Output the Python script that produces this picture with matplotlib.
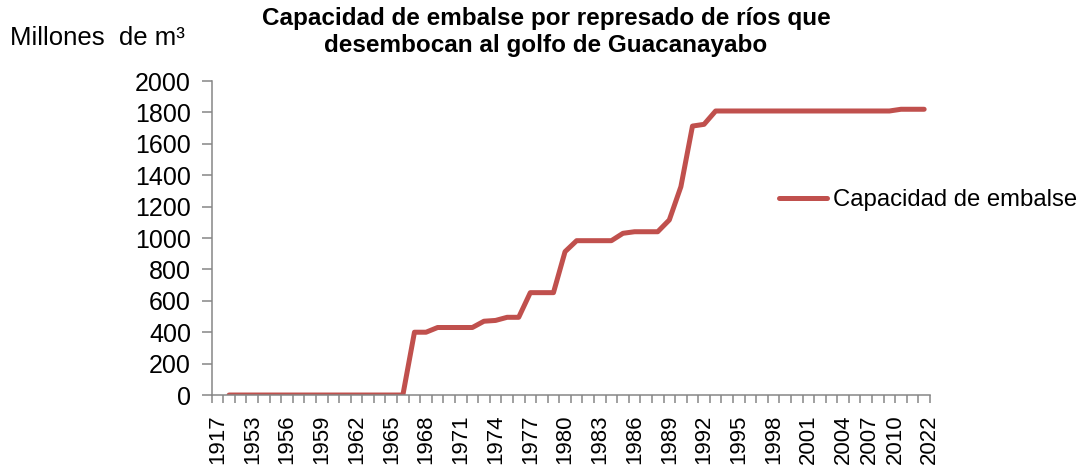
import numpy as np
import matplotlib
matplotlib.use("Agg")
import matplotlib.pyplot as plt
import matplotlib.transforms as mtransforms

plt.rcParams['font.family'] = ['Liberation Sans', 'DejaVu Sans']

# categories (years) and reservoir capacity (millions of m3)
years = ['1917', '1951', '1952',
         '1953', '1954', '1955', '1956', '1957', '1958', '1959', '1960',
         '1961', '1962', '1963', '1964', '1965', '1966', '1967', '1968',
         '1969', '1970', '1971', '1972', '1973', '1974', '1975', '1976',
         '1977', '1978', '1979', '1980', '1981', '1982', '1983', '1984',
         '1985', '1986', '1987', '1988', '1989', '1990', '1991', '1992',
         '1993', '1994', '1995', '1996', '1997', '1998', '1999', '2000',
         '2001', '2002', '2003', '2004', '2005', '2006', '2007', '2008',
         '2009', '2010', '2022']
capacidad = [np.nan, 0, 0,
             0, 0, 0, 0, 0, 0, 0, 0,
             0, 0, 0, 0, 0, 0, 400, 400,
             430, 430, 430, 430, 470, 475, 495, 495,
             652, 652, 652, 913, 983, 983, 983, 983,
             1030, 1040, 1040, 1040, 1115, 1327, 1713, 1724,
             1809, 1809, 1809, 1809, 1809, 1809, 1809, 1809,
             1809, 1809, 1809, 1809, 1809, 1809, 1809, 1809,
             1820, 1820, 1820]
y_ticks = list(range(0, 2001, 200))

line_color = '#C0504D'
axis_color = '#868686'

fig = plt.figure(figsize=(10.92, 4.65), dpi=100)
ax = fig.add_axes([0.1939, 0.1505, 0.6577, 0.6753])

x = np.arange(len(years))
ax.plot(x, capacidad, color=line_color, lw=3.6, solid_capstyle='round',
        solid_joinstyle='round', label='Capacidad de embalse')

ax.set_xlim(-0.5, len(years) - 0.5)
ax.set_ylim(0, 2000)

for side in ['top', 'right']:
    ax.spines[side].set_visible(False)
for side in ['left', 'bottom']:
    ax.spines[side].set_color(axis_color)
    ax.spines[side].set_linewidth(1.1)

# y axis
ax.set_yticks(y_ticks)
ax.tick_params(axis='y', direction='out', length=7, width=1.1, color=axis_color,
               labelsize=18, pad=8)

# x axis: ticks between categories, labels every third category + last one
ax.set_xticks(np.arange(-0.5, len(years)), labels=[])
ax.tick_params(axis='x', which='major', direction='out', length=6, width=1.1,
               color=axis_color)
lab_idx = list(range(0, len(years) - 1, 3)) + [len(years) - 1]
ax.set_xticks(lab_idx, labels=[years[i] for i in lab_idx], minor=True)
ax.tick_params(axis='x', which='minor', length=0, labelsize=16, pad=14,
               labelrotation=90)

# spread the crowded last labels like the original does
shifts = {'2007': -8, '2010': -17, '2022': 5}
for lab in ax.get_xticklabels(minor=True):
    dx = shifts.get(lab.get_text())
    if dx:
        off = mtransforms.ScaledTranslation(dx / 100, 0, fig.dpi_scale_trans)
        lab.set_transform(lab.get_transform() + off)

fig.text(0.5, 1 - 7 / 465, 'Capacidad de embalse por represado de ríos que\n'
         'desembocan al golfo de Guacanayabo', ha='center', va='top',
         fontsize=17.5, fontweight='bold', linespacing=1.22)
fig.text(10 / 1092, 1 - 38 / 465, 'Millones  de m³', ha='left', va='center',
         fontsize=18.5)

fig.legend(loc='center left', bbox_to_anchor=(779 / 1092, 1 - 200 / 465),
           frameon=False, fontsize=17.2, handlelength=2.0, handletextpad=0.25,
           borderpad=0, borderaxespad=0)

fig.savefig('out.png', dpi=100)
